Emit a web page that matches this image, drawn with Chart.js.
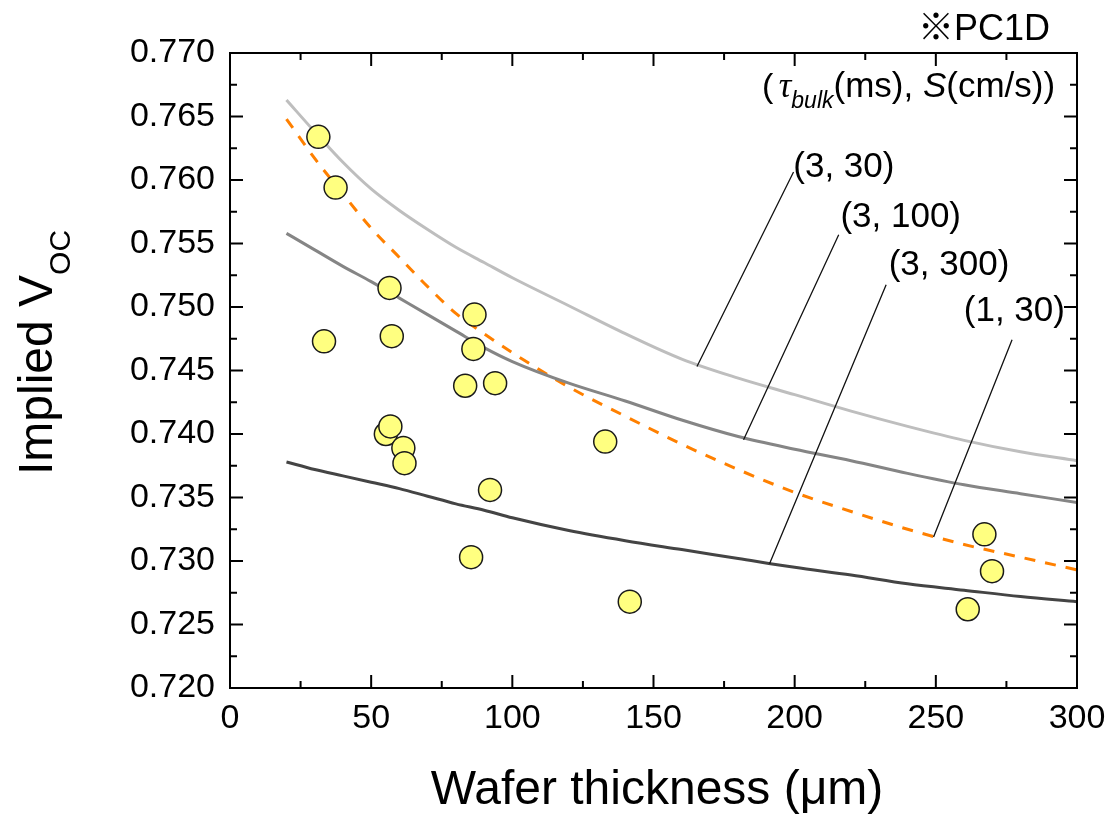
<!DOCTYPE html>
<html>
<head>
<meta charset="utf-8">
<title>Implied Voc vs wafer thickness</title>
<script src="https://cdn.jsdelivr.net/npm/chart.js@4.4.1/dist/chart.umd.min.js"></script>
<style>
  html, body { margin: 0; padding: 0; background: #fff; }
  #wrap { width: 1109px; height: 817px; }
</style>
</head>
<body>
<div id="wrap"><canvas id="vocChart" width="1109" height="817"></canvas></div>
<script>
// measured wafers
const sampleThickness = [31.3, 37.4, 56.5, 86.6, 33.3, 57.3, 86.2, 83.3, 93.9, 55.2, 56.8, 61.4, 61.8, 92.1, 85.4, 132.9, 141.6, 267.2, 269.9, 261.3];
const sampleVoc = [0.7634, 0.7594, 0.7515, 0.7494, 0.7473, 0.7477, 0.7467, 0.7438, 0.7440, 0.7400, 0.7406, 0.7389, 0.7377, 0.7356, 0.7303, 0.7394, 0.7268, 0.7321, 0.7292, 0.7262];

// PC1D curves, (tau_bulk ms, S cm/s)
const simThickness = [20, 30, 40, 50, 60, 70, 80, 90, 100, 120, 140, 160, 180, 200, 220, 240, 260, 280, 300];
const voc3_30  = [0.7663, 0.7638, 0.7614, 0.7593, 0.7576, 0.7561, 0.7547, 0.7535, 0.7523, 0.7501, 0.7479, 0.7459, 0.7444, 0.7431, 0.7418, 0.7406, 0.7395, 0.7386, 0.7379];
const voc3_100 = [0.7558, 0.7545, 0.7532, 0.7520, 0.7507, 0.7494, 0.7481, 0.7468, 0.7457, 0.7440, 0.7426, 0.7411, 0.7398, 0.7388, 0.7379, 0.7369, 0.7360, 0.7353, 0.7346];
const voc3_300 = [0.7378, 0.7372, 0.7367, 0.7362, 0.7357, 0.7351, 0.7345, 0.7340, 0.7334, 0.7324, 0.7316, 0.7309, 0.7302, 0.7295, 0.7289, 0.7282, 0.7277, 0.7272, 0.7268];
const voc1_30  = [0.7648, 0.7617, 0.7589, 0.7562, 0.7539, 0.7516, 0.7495, 0.7479, 0.7464, 0.7437, 0.7414, 0.7392, 0.7372, 0.7354, 0.7339, 0.7325, 0.7313, 0.7303, 0.7293];

const curveNames = ['(3, 30)', '(3, 100)', '(3, 300)', '(1, 30)'];

// axis ticks
const xMajor = [0, 50, 100, 150, 200, 250, 300];
const xMinor = [25, 75, 125, 175, 225, 275];
const yMajor = [0.720, 0.725, 0.730, 0.735, 0.740, 0.745, 0.750, 0.755, 0.760, 0.765, 0.770];
const yMinor = [0.7225, 0.7275, 0.7325, 0.7375, 0.7425, 0.7475, 0.7525, 0.7575, 0.7625, 0.7675];

const FONT = '"Liberation Sans", Arial, "Noto Sans CJK JP", sans-serif';

function pts(xs, ys) {
  return xs.map((x, i) => ({ x: x, y: ys[i] }));
}

// label text anchor + leader line (from label to curve), in data units
const callouts = [
  { text: curveNames[0], at: [199.5, 0.76026], from: [199.6, 0.76063], to: [165.4, 0.74532] },
  { text: curveNames[1], at: [216.2, 0.75632], from: [215.6, 0.75569], to: [181.9, 0.73955] },
  { text: curveNames[2], at: [233.3, 0.75254], from: [232.4, 0.75176], to: [191.1, 0.72979] },
  { text: curveNames[3], at: [259.9, 0.74887], from: [277.0, 0.74743], to: [249.2, 0.73189] }
];

function curve(label, ys, color, dash) {
  return {
    label: label,
    data: pts(simThickness, ys),
    showLine: true,
    borderColor: color,
    borderWidth: 3,
    borderDash: dash || [],
    pointRadius: 0,
    cubicInterpolationMode: 'monotone',
    order: 2
  };
}

const frameAndText = {
  id: 'frameAndText',
  afterDraw(chart) {
    const { ctx, chartArea: a, scales: { x, y } } = chart;
    ctx.save();

    // leader lines
    ctx.strokeStyle = '#111';
    ctx.lineWidth = 1.3;
    ctx.beginPath();
    callouts.forEach(c => {
      ctx.moveTo(x.getPixelForValue(c.from[0]), y.getPixelForValue(c.from[1]));
      ctx.lineTo(x.getPixelForValue(c.to[0]), y.getPixelForValue(c.to[1]));
    });
    ctx.stroke();

    // box and inward ticks
    ctx.strokeStyle = '#000';
    ctx.lineWidth = 2;
    ctx.beginPath();
    const tx = (vals, len) => vals.forEach(v => {
      const px = x.getPixelForValue(v);
      ctx.moveTo(px, a.bottom); ctx.lineTo(px, a.bottom - len);
      ctx.moveTo(px, a.top); ctx.lineTo(px, a.top + len);
    });
    const ty = (vals, len) => vals.forEach(v => {
      const py = y.getPixelForValue(v);
      ctx.moveTo(a.left, py); ctx.lineTo(a.left + len, py);
      ctx.moveTo(a.right, py); ctx.lineTo(a.right - len, py);
    });
    tx(xMajor, 13); tx(xMinor, 7);
    ty(yMajor, 13); ty(yMinor, 7);
    ctx.stroke();
    ctx.strokeRect(a.left, a.top, a.right - a.left, a.bottom - a.top);

    // curve labels
    ctx.fillStyle = '#000';
    ctx.textBaseline = 'alphabetic';
    ctx.textAlign = 'left';
    ctx.font = '35px ' + FONT;
    callouts.forEach(c => {
      ctx.fillText(c.text, x.getPixelForValue(c.at[0]), y.getPixelForValue(c.at[1]));
    });

    // header: (tau_bulk(ms), S(cm/s))
    let hx = a.left + 532;
    const hy = a.top + 44;
    const put = (t, font, dy) => {
      ctx.font = font;
      ctx.fillText(t, hx, hy + (dy || 0));
      hx += ctx.measureText(t).width;
    };
    put('( ', '34px ' + FONT);
    hx -= 4;
    put('\u03C4', 'italic 35px "Liberation Serif", serif');
    put('bulk', 'italic 23px ' + FONT, 11);
    put('(ms), ', '35px ' + FONT);
    put('S', 'italic 35px ' + FONT);
    put('(cm/s))', '35px ' + FONT);

    // source note
    ctx.font = '36px ' + FONT;
    ctx.textAlign = 'right';
    ctx.fillText('\u203BPC1D', a.right - 27, a.top - 13);

    // axis titles
    ctx.textAlign = 'center';
    ctx.font = '48px ' + FONT;
    ctx.fillText('Wafer thickness (\u03BCm)', 657, 804);

    ctx.textAlign = 'left';
    ctx.translate(52, 475);
    ctx.rotate(-Math.PI / 2);
    ctx.font = '48px ' + FONT;
    ctx.fillText('Implied V', 0, 0);
    const w = ctx.measureText('Implied V').width;
    ctx.font = '30px ' + FONT;
    ctx.fillText('OC', w, 18);

    ctx.restore();
  }
};

new Chart(document.getElementById('vocChart'), {
  type: 'scatter',
  data: {
    datasets: [
      {
        label: 'Measured',
        data: pts(sampleThickness, sampleVoc),
        pointRadius: 11.5,
        pointHoverRadius: 11.5,
        backgroundColor: '#FFFF80',
        borderColor: '#1a1a1a',
        borderWidth: 1.5,
        order: 0
      },
      curve(curveNames[0], voc3_30, '#BEBEBE'),
      curve(curveNames[1], voc3_100, '#858585'),
      curve(curveNames[2], voc3_300, '#444444'),
      curve(curveNames[3], voc1_30, '#FF8000', [11, 10])
    ]
  },
  options: {
    responsive: false,
    animation: false,
    devicePixelRatio: 1,
    layout: { padding: { top: 53, right: 32, left: 0, bottom: 0 } },
    plugins: { legend: { display: false }, tooltip: { enabled: false } },
    scales: {
      x: {
        type: 'linear',
        min: 0,
        max: 300,
        afterBuildTicks: s => { s.ticks = xMajor.map(v => ({ value: v })); },
        afterFit: s => { s.height = 129; s.paddingLeft = 0; s.paddingRight = 0; },
        grid: { display: false, drawTicks: false },
        border: { display: false },
        ticks: {
          color: '#000',
          font: { family: FONT, size: 34 },
          padding: 10,
          maxRotation: 0,
          autoSkip: false,
          callback: v => String(v)
        }
      },
      y: {
        type: 'linear',
        min: 0.720,
        max: 0.770,
        afterBuildTicks: s => { s.ticks = yMajor.map(v => ({ value: v })); },
        afterFit: s => { s.width = 230; s.paddingTop = 0; s.paddingBottom = 0; },
        grid: { display: false, drawTicks: false },
        border: { display: false },
        ticks: {
          color: '#000',
          font: { family: FONT, size: 34 },
          padding: 15,
          autoSkip: false,
          callback: v => v.toFixed(3)
        }
      }
    }
  },
  plugins: [frameAndText]
});
</script>
</body>
</html>
